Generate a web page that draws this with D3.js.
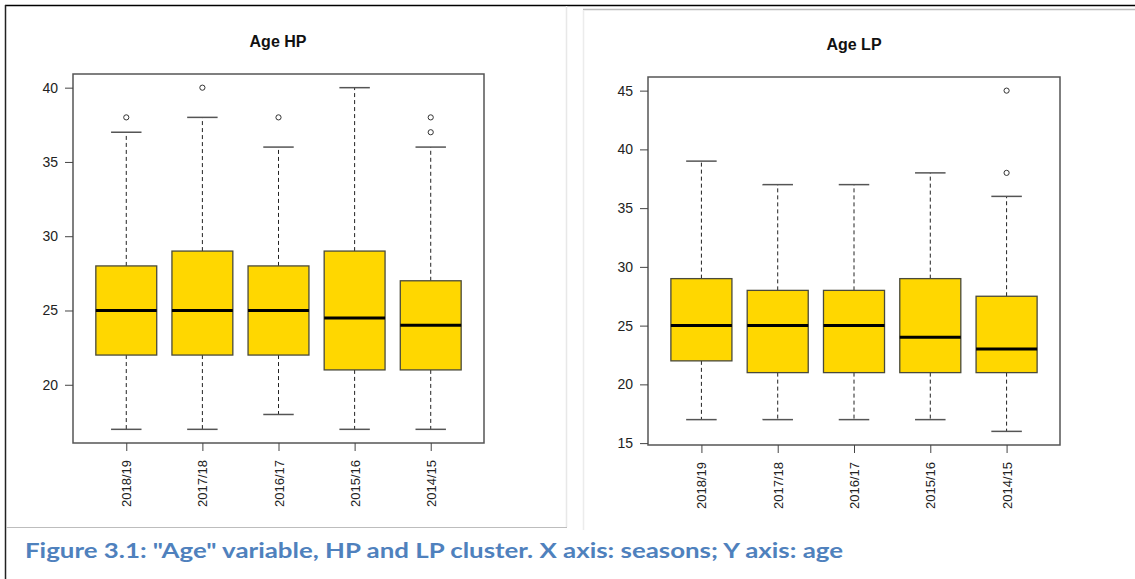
<!DOCTYPE html>
<html>
<head>
<meta charset="utf-8">
<script src="https://cdn.jsdelivr.net/npm/d3@7"></script>
<style>
  html, body { margin: 0; padding: 0; background: #fff; }
  svg { display: block; }
</style>
</head>
<body>
<svg id="fig" width="1135" height="579"></svg>
<script>
// Seasons, in the order they are plotted
const seasons = ["2018/19", "2017/18", "2016/17", "2015/16", "2014/15"];

// Age HP cluster: whisker ends, quartiles, medians, outliers
const hpLow    = [17, 17, 18, 17, 17];
const hpQ1     = [22, 22, 22, 21, 21];
const hpMedian = [25, 25, 25, 24.5, 24];
const hpQ3     = [28, 29, 28, 29, 27];
const hpHigh   = [37, 38, 36, 40, 36];
const hpOut    = [[38], [40], [38], [], [37, 38]];
const hpTicks  = [20, 25, 30, 35, 40];

// Age LP cluster
const lpLow    = [17, 17, 17, 17, 16];
const lpQ1     = [22, 21, 21, 21, 21];
const lpMedian = [25, 25, 25, 24, 23];
const lpQ3     = [29, 28, 28, 29, 27.5];
const lpHigh   = [39, 37, 37, 38, 36];
const lpOut    = [[], [], [], [], [38, 45]];
const lpTicks  = [15, 20, 25, 30, 35, 40, 45];

const caption = "Figure 3.1: \"Age\" variable, HP and LP cluster. X axis: seasons; Y axis: age";

const svg = d3.select("#fig");

// Page framing lines around the two figure panels
svg.append("line").attr("x1", 5).attr("x2", 1135).attr("y1", 5.5).attr("y2", 5.5)
  .attr("stroke", "#000").attr("stroke-width", 1.5);
svg.append("line").attr("x1", 5.5).attr("x2", 5.5).attr("y1", 5).attr("y2", 579)
  .attr("stroke", "#222").attr("stroke-width", 1.5);
svg.append("line").attr("x1", 566.5).attr("x2", 566.5).attr("y1", 6).attr("y2", 527)
  .attr("stroke", "#e8e8e8").attr("stroke-width", 1.5);
svg.append("line").attr("x1", 6).attr("x2", 567).attr("y1", 527.5).attr("y2", 527.5)
  .attr("stroke", "#bdbdbd").attr("stroke-width", 1);
svg.append("line").attr("x1", 583).attr("x2", 1135).attr("y1", 9.5).attr("y2", 9.5)
  .attr("stroke", "#bdbdbd").attr("stroke-width", 1.5);
svg.append("line").attr("x1", 583.5).attr("x2", 583.5).attr("y1", 10).attr("y2", 530)
  .attr("stroke", "#ececec").attr("stroke-width", 1.5);

function drawPanel(opts) {
  const { left, right, top, bottom, title, titleX, titleY, ticks,
          low, q1, median, q3, high, out } = opts;

  const allVals = low.concat(high, out.flat());
  const lo = d3.min(allVals), hi = d3.max(allVals);
  const pad = (hi - lo) * 0.04;
  const y = d3.scaleLinear().domain([lo - pad, hi + pad]).range([bottom, top]);

  const n = seasons.length;
  const xpad = n * 0.04;
  const x = d3.scaleLinear().domain([0.5 - xpad, n + 0.5 + xpad]).range([left, right]);
  const pos = seasons.map((s, i) => i + 1);

  const g = svg.append("g");
  const boxHalf = 0.4, capHalf = 0.2;

  const data = seasons.map((s, i) => ({
    s, p: pos[i], low: low[i], q1: q1[i], med: median[i], q3: q3[i], high: high[i], out: out[i]
  }));

  const box = g.selectAll("g.box").data(data).join("g").attr("class", "box");

  // Dashed whiskers
  box.append("line")
    .attr("x1", d => x(d.p)).attr("x2", d => x(d.p))
    .attr("y1", d => y(d.q3)).attr("y2", d => y(d.high))
    .attr("stroke", "#222").attr("stroke-width", 1).attr("stroke-dasharray", "4,3");
  box.append("line")
    .attr("x1", d => x(d.p)).attr("x2", d => x(d.p))
    .attr("y1", d => y(d.q1)).attr("y2", d => y(d.low))
    .attr("stroke", "#222").attr("stroke-width", 1).attr("stroke-dasharray", "4,3");

  // Whisker caps
  ["low", "high"].forEach(k => {
    box.append("line")
      .attr("x1", d => x(d.p - capHalf)).attr("x2", d => x(d.p + capHalf))
      .attr("y1", d => y(d[k])).attr("y2", d => y(d[k]))
      .attr("stroke", "#555").attr("stroke-width", 1.5);
  });

  // Boxes
  box.append("rect")
    .attr("x", d => x(d.p - boxHalf))
    .attr("width", d => x(d.p + boxHalf) - x(d.p - boxHalf))
    .attr("y", d => y(d.q3))
    .attr("height", d => y(d.q1) - y(d.q3))
    .attr("fill", "#ffd700").attr("stroke", "#4a4a3a").attr("stroke-width", 1.3);

  // Medians
  box.append("line")
    .attr("x1", d => x(d.p - boxHalf)).attr("x2", d => x(d.p + boxHalf))
    .attr("y1", d => y(d.med)).attr("y2", d => y(d.med))
    .attr("stroke", "#000").attr("stroke-width", 3);

  // Outliers
  box.selectAll("circle").data(d => d.out.map(v => ({ p: d.p, v })))
    .join("circle")
    .attr("cx", d => x(d.p)).attr("cy", d => y(d.v)).attr("r", 2.6)
    .attr("fill", "#fff").attr("stroke", "#333").attr("stroke-width", 1);

  // Plot frame
  g.append("rect")
    .attr("x", left).attr("y", top)
    .attr("width", right - left).attr("height", bottom - top)
    .attr("fill", "none").attr("stroke", "#555").attr("stroke-width", 1.5);

  // Y axis
  const yAxis = g.append("g")
    .attr("transform", `translate(${left},0)`)
    .call(d3.axisLeft(y).tickValues(ticks).tickSize(8).tickPadding(7).tickFormat(d3.format("d")));
  yAxis.select(".domain").remove();
  yAxis.selectAll("line").attr("stroke", "#444").attr("stroke-width", 1);
  yAxis.selectAll("text").attr("font-family", "Liberation Sans, Arial, sans-serif")
    .attr("font-size", 14).attr("fill", "#222");

  // X axis with rotated season labels
  const xAxis = g.append("g")
    .attr("transform", `translate(0,${bottom})`)
    .call(d3.axisBottom(x).tickValues(pos).tickSize(8).tickFormat((d, i) => seasons[i]));
  xAxis.select(".domain").remove();
  xAxis.selectAll("line").attr("stroke", "#444").attr("stroke-width", 1);
  xAxis.selectAll("text")
    .attr("font-family", "Liberation Sans, Arial, sans-serif")
    .attr("font-size", 13).attr("fill", "#222")
    .attr("transform", "rotate(-90)")
    .attr("text-anchor", "end")
    .attr("x", -17).attr("y", 0).attr("dy", "0.35em");

  // Title
  g.append("text")
    .attr("x", titleX).attr("y", titleY)
    .attr("text-anchor", "middle")
    .attr("font-family", "Liberation Sans, Arial, sans-serif")
    .attr("font-weight", "bold").attr("font-size", 16).attr("fill", "#111")
    .text(title);
}

drawPanel({
  left: 73, right: 484, top: 74, bottom: 443,
  title: "Age HP", titleX: 278, titleY: 47, ticks: hpTicks,
  low: hpLow, q1: hpQ1, median: hpMedian, q3: hpQ3, high: hpHigh, out: hpOut
});

drawPanel({
  left: 648, right: 1060, top: 77, bottom: 445,
  title: "Age LP", titleX: 854, titleY: 50, ticks: lpTicks,
  low: lpLow, q1: lpQ1, median: lpMedian, q3: lpQ3, high: lpHigh, out: lpOut
});

// Figure caption
svg.append("text")
  .attr("x", 25).attr("y", 558)
  .attr("font-family", "Lato, 'Open Sans', sans-serif")
  .attr("font-weight", "bold").attr("font-size", 21)
  .attr("fill", "#4f81bd")
  .attr("textLength", 818).attr("lengthAdjust", "spacingAndGlyphs")
  .text(caption);
</script>
</body>
</html>
